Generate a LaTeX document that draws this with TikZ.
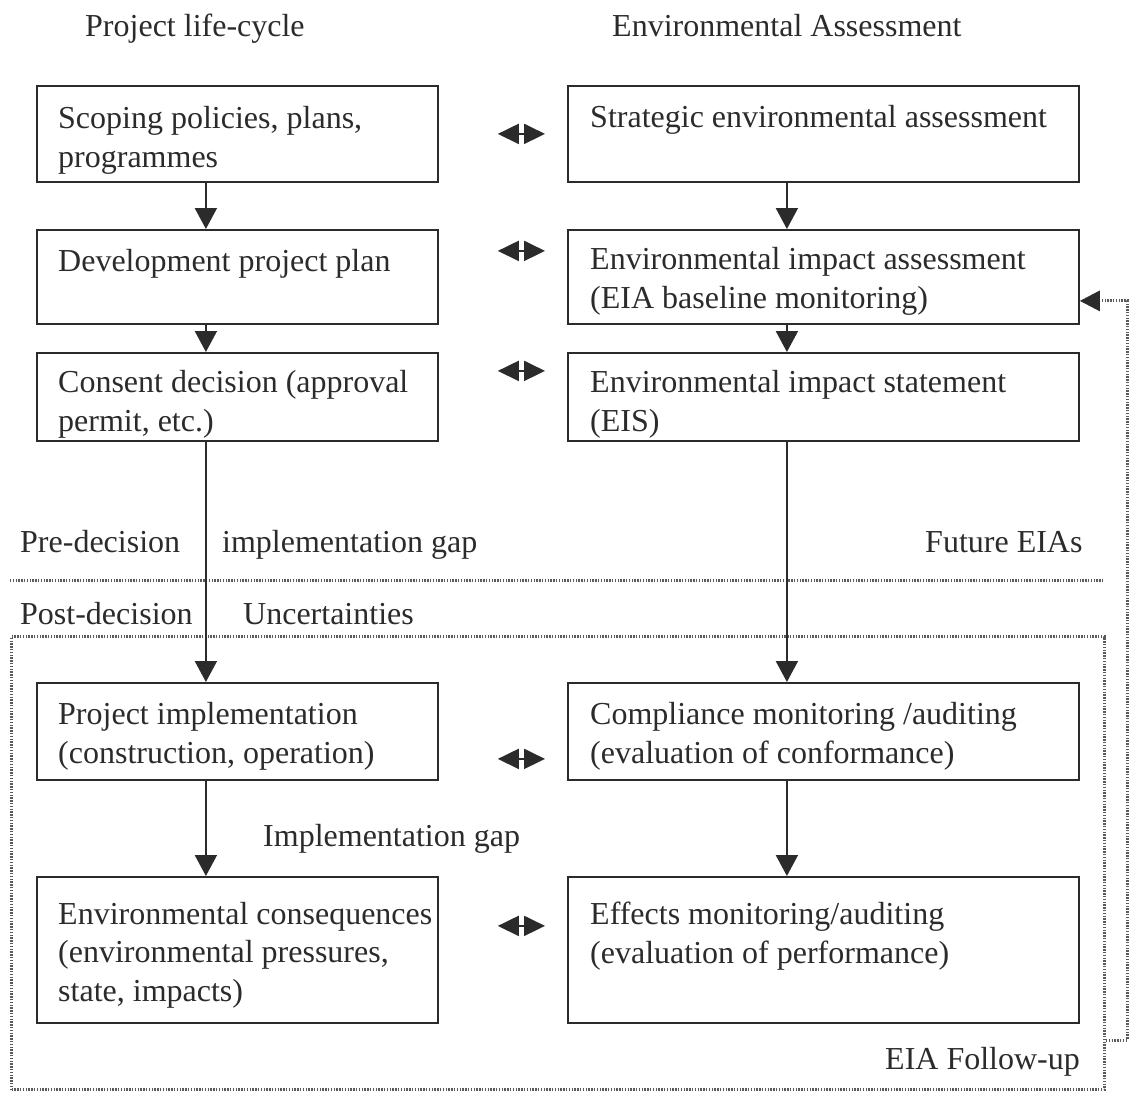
\documentclass[tikz,border=0pt]{standalone}
\usepackage{fontspec}
\setmainfont{Liberation Serif}
\usetikzlibrary{arrows.meta}
\definecolor{ink}{HTML}{2B2B2B}
\definecolor{dots}{HTML}{5A5A5A}
\begin{document}
\begin{tikzpicture}[x=1pt,y=-1pt,
  every node/.style={text=ink},
  % multi-line texts are placed by the baseline of their last line
  txt/.style={font=\fontsize{32}{38.5}\selectfont, inner sep=0pt, align=left, anchor=base west},
  box/.style={draw=ink, line width=1.8pt, rectangle, anchor=north west, inner sep=0pt},
  lbox/.style={box, minimum width=401pt},
  rbox/.style={box, minimum width=511pt},
  flow/.style={draw=ink, line width=2pt, -{Triangle[length=21pt,width=22pt]}},
  link/.style={draw=ink, line width=2pt, {Triangle[length=21pt,width=20pt]}-{Triangle[length=21pt,width=20pt]},
               shorten <=59pt, shorten >=22pt},
  dotline/.style={draw=dots, line width=3pt, dash pattern=on 1.4pt off 1.4pt},
]
\useasboundingbox (0,0) rectangle (1132,1092);

% column headings
\node[txt] (hl) at (85,36) {Project life-cycle};
\node[txt] (hr) at (612,36) {Environmental Assessment};

% project life-cycle boxes
\node[lbox, minimum height=96pt]  (p1) at (36,85)  {};
\node[lbox, minimum height=94pt]  (p2) at (36,229) {};
\node[lbox, minimum height=88pt]  (p3) at (36,352) {};
\node[lbox, minimum height=97pt]  (p4) at (36,682) {};
\node[lbox, minimum height=146pt] (p5) at (36,876) {};

% environmental assessment boxes
\node[rbox, minimum height=96pt]  (e1) at (567,85)  {};
\node[rbox, minimum height=94pt]  (e2) at (567,229) {};
\node[rbox, minimum height=88pt]  (e3) at (567,352) {};
\node[rbox, minimum height=97pt]  (e4) at (567,682) {};
\node[rbox, minimum height=146pt] (e5) at (567,876) {};

% box texts
\node[txt] (tp1) at (58,167) {Scoping policies, plans,\\programmes};
\node[txt] (tp2) at (58,271) {Development project plan};
\node[txt] (tp3) at (58,431) {Consent decision (approval\\permit, etc.)};
\node[txt] (tp4) at (58,763) {Project implementation\\(construction, operation)};
\node[txt] (tp5) at (58,1001) {Environmental consequences\\(environmental pressures,\\state, impacts)};
\node[txt] (te1) at (590,127) {Strategic environmental assessment};
\node[txt] (te2) at (590,308) {Environmental impact assessment\\(EIA baseline monitoring)};
\node[txt] (te3) at (590,431) {Environmental impact statement\\(EIS)};
\node[txt] (te4) at (590,763) {Compliance monitoring /auditing\\(evaluation of conformance)};
\node[txt] (te5) at (590,963) {Effects monitoring/auditing\\(evaluation of performance)};

% phase labels
\node[txt] (pre)  at (20,552)  {Pre-decision};
\node[txt] (ig1)  at (222,552) {implementation gap};
\node[txt] (fut)  at (925,552) {Future EIAs};
\node[txt] (post) at (20,624)  {Post-decision};
\node[txt] (unc)  at (243,624) {Uncertainties};
\node[txt] (ig2)  at (263,846) {Implementation gap};
\node[txt] (fol)  at (885,1069) {EIA Follow-up};

% decision line and follow-up frame
\coordinate (sl) at (10,580);
\coordinate (sr) at (1103,580);
\draw[dotline] (sl) -- (sr);
\node[dotline, rectangle, anchor=north west, inner sep=0pt,
      minimum width=1093pt, minimum height=453pt] (fu) at (10,635) {};

% feedback to future EIAs
\coordinate (fc) at (1127,1040);
\draw[dotline, -{Triangle[length=20pt,width=20pt,color=ink]}]
  (fu.east |- fc) -- (fc) |- ([yshift=-24pt]e2.east);

% flow down each column
\draw[flow] ([xshift=-31.5pt]p1.south) -- ([xshift=-31.5pt]p2.north);
\draw[flow] ([xshift=-31.5pt]p2.south) -- ([xshift=-31.5pt]p3.north);
\draw[flow] ([xshift=-31.5pt]p3.south) -- ([xshift=-31.5pt]p4.north);
\draw[flow] ([xshift=-31.5pt]p4.south) -- ([xshift=-31.5pt]p5.north);
\draw[flow] ([xshift=-36.5pt]e1.south) -- ([xshift=-36.5pt]e2.north);
\draw[flow] ([xshift=-36.5pt]e2.south) -- ([xshift=-36.5pt]e3.north);
\draw[flow] ([xshift=-36.5pt]e3.south) -- ([xshift=-36.5pt]e4.north);
\draw[flow] ([xshift=-36.5pt]e4.south) -- ([xshift=-36.5pt]e5.north);

% links between the columns
\draw[link] (p1.east) -- (e1.west);
\draw[link] ([yshift=26pt]p2.east) -- ([yshift=26pt]e2.west);
\draw[link] ([yshift=26pt]p3.east) -- ([yshift=26pt]e3.west);
\draw[link] ([yshift=-27.5pt]p4.east) -- ([yshift=-27.5pt]e4.west);
\draw[link] ([yshift=24pt]p5.east) -- ([yshift=24pt]e5.west);
\end{tikzpicture}
\end{document}
